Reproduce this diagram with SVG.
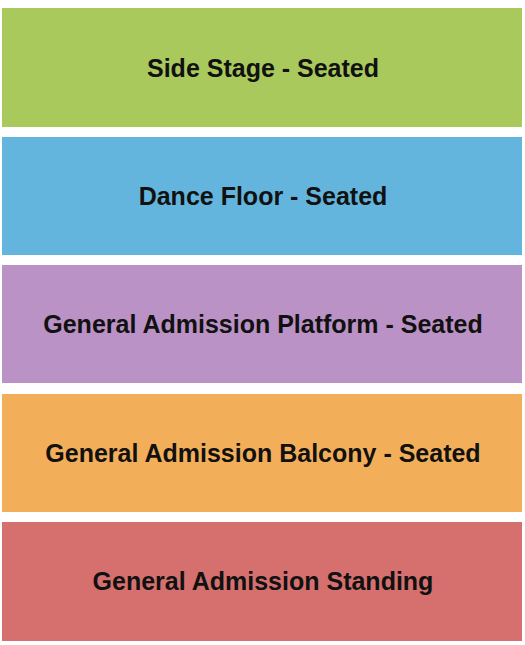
<svg xmlns="http://www.w3.org/2000/svg" width="525" height="645" viewBox="0 0 525 645">
<style>
.t{font-family:"Liberation Sans",Arial,sans-serif;font-weight:bold;font-size:25px;fill:#111;text-anchor:middle;dominant-baseline:central}
</style>
<rect width="525" height="645" fill="#fff"/>
<g id="side-stage"><rect x="2" y="8" width="520" height="119" fill="#a9c95d"/><text class="t" x="263" y="68">Side Stage - Seated</text></g>
<g id="dance-floor"><rect x="2" y="137" width="520" height="118" fill="#63b5dd"/><text class="t" x="263" y="196">Dance Floor - Seated</text></g>
<g id="ga-platform"><rect x="2" y="265" width="520" height="118" fill="#bb92c6"/><text class="t" x="263" y="324">General Admission Platform - Seated</text></g>
<g id="ga-balcony"><rect x="2" y="394" width="520" height="118" fill="#f3ae5a"/><text class="t" x="263" y="453">General Admission Balcony - Seated</text></g>
<g id="ga-standing"><rect x="2" y="522" width="520" height="119" fill="#d6706e"/><text class="t" x="263" y="581">General Admission Standing</text></g>
<g id="connectors"/>
</svg>
